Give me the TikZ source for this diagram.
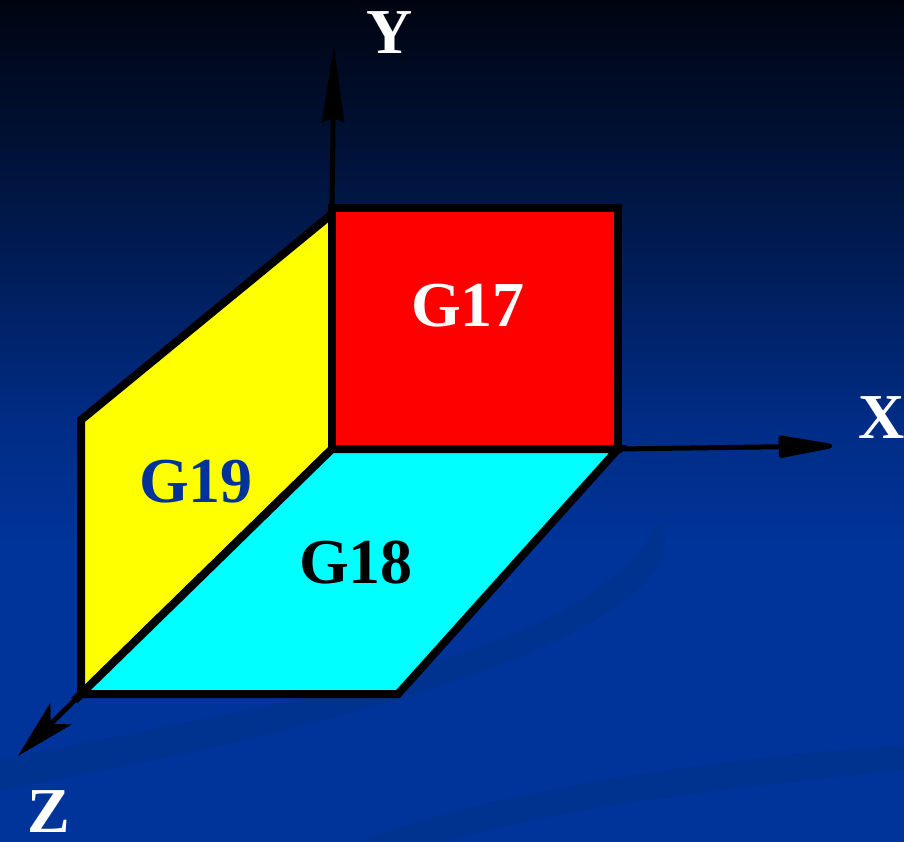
\documentclass[tikz,border=0pt]{standalone}
\usepackage{fontspec}
\setmainfont{Liberation Serif}
\usetikzlibrary{arrows.meta}
\definecolor{bgA}{HTML}{00349A}
\definecolor{bgB}{HTML}{002C84}
\definecolor{bgC}{HTML}{00184A}
\definecolor{bgD}{HTML}{000410}
\definecolor{swoosh}{HTML}{00328F}
\definecolor{gblue}{HTML}{003399}
\definecolor{fyellow}{HTML}{FFFF00}
\definecolor{fcyan}{HTML}{00FFFF}
\definecolor{fred}{HTML}{FF0000}
\pgfdeclareverticalshading{bgshade}{100bp}{color(0bp)=(bgA); color(42.5bp)=(bgA); color(50bp)=(bgB); color(62bp)=(bgC); color(75bp)=(bgD); color(100bp)=(bgD)}
\tikzset{
  face/.style={draw=black, line width=8pt, line join=miter},
  axis/.style={draw=black, line width=5pt},
  lbl/.style={font=\bfseries\fontsize{64}{70}\selectfont, inner sep=0pt},
}
\begin{document}
\begin{tikzpicture}[x=1pt,y=-1pt]
\useasboundingbox (0,0) rectangle (904,841);
\begin{scope}[y=1pt]
\shade[shading=bgshade] (0,-841) rectangle (904,0);
\end{scope}
% faint swooshes
\fill[swoosh] (0,760) .. controls (300,700) and (600,650) .. (660,520) .. controls (700,600) and (500,700) .. (0,790) -- cycle;
\fill[swoosh] (360,841) .. controls (500,790) and (700,760) .. (904,745) -- (904,770) .. controls (700,790) and (550,810) .. (450,841) -- cycle;
% coordinates
\coordinate (O) at (332,449);
\coordinate (Ytop) at (332,208);
\coordinate (Xr) at (618,449);
\coordinate (Zl) at (81,694);
\coordinate (Zc) at (398,694);
\coordinate (Yl) at (81,420);
\coordinate (Yt) at (332,214);
\coordinate (Yend) at (334,46);
\coordinate (Xend) at (832,446);
\coordinate (Zend) at (18,756);
% faces
\filldraw[face, fill=fyellow] (Yt) -- (O) -- (Zl) -- (Yl) -- cycle;
\filldraw[face, fill=fcyan] (O) -- (Xr) -- (Zc) -- (Zl) -- cycle;
\filldraw[face, fill=fred] (O) rectangle (618,208);
% axes
\draw[axis, -{Stealth[length=76pt,width=22pt,inset=4pt]}] (Ytop) -- (Yend);
\draw[axis, -{Triangle[length=66pt,width=22pt,round]}] (Xr) -- (Xend);
\draw[axis, -{Stealth[length=60pt,width=30pt,inset=14pt]}] (Zl) -- (Zend);
% labels
\node[lbl, text=white] (Ylab) at (390,33) {Y};
\node[lbl, text=white] (Xlab) at (882,418) {X};
\node[lbl, text=white] (Zlab) at (49,812) {Z};
\node[lbl, text=white] (g17) at (468,306) {G17};
\node[lbl, text=gblue] (g19) at (196,482) {G19};
\node[lbl, text=black] (g18) at (356,563) {G18};
\end{tikzpicture}
\end{document}
